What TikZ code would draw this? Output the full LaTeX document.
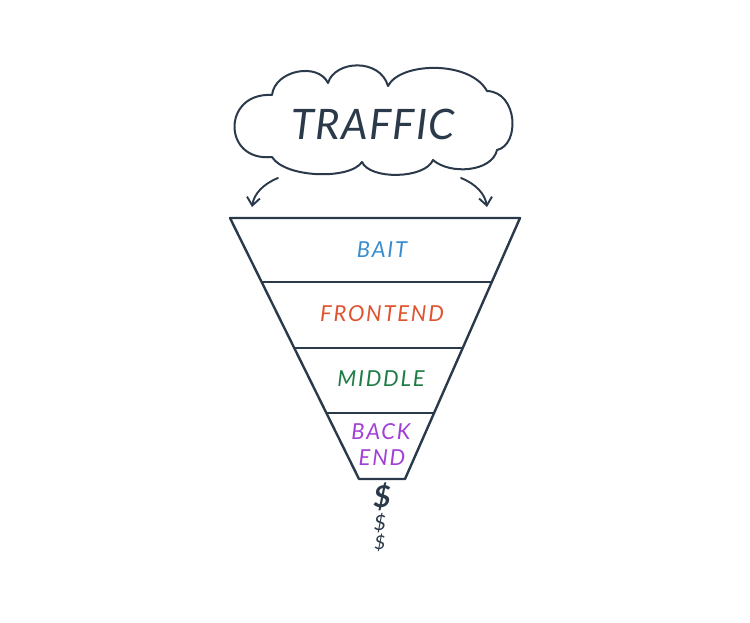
\documentclass[tikz,border=0pt]{standalone}
\usepackage{fontspec}
\newfontfamily\hand{Lato}
\newfontfamily\handw{Lato}[LetterSpace=8]
\newfontfamily\handt{Lato}[LetterSpace=3]
\usetikzlibrary{arrows.meta}
\definecolor{ink}{HTML}{2B3A4A}
\definecolor{baitc}{HTML}{3A8ECF}
\definecolor{frontc}{HTML}{E0532F}
\definecolor{midc}{HTML}{1E7D44}
\definecolor{backc}{HTML}{A23FD6}
\tikzset{
  funnel/.style={draw=ink, line width=2.4pt, line join=round},
  cloudline/.style={draw=ink, line width=2pt, line join=round, line cap=round},
  flowarrow/.style={draw=ink, line width=1.9pt, line cap=round, -{Straight Barb[length=8pt,width=13pt,line width=1.9pt]}},
  lab/.style={font=\handw\itshape\fontsize{22}{22}\selectfont, inner sep=0pt},
  dollar/.style={text=ink, inner sep=0pt}
}
\begin{document}
\begin{tikzpicture}[x=1pt,y=-1pt]
\useasboundingbox (0,0) rectangle (750,622);
\fill[white] (0,0) rectangle (750,622);

% cloud
\draw[cloudline]
  (272,95) .. controls (275,70) and (318,62) .. (328,83)
  .. controls (335,60) and (380,58) .. (388,86)
  .. controls (400,62) and (470,60) .. (487,91)
  .. controls (518,92) and (520,145) .. (497,150)
  .. controls (492,172) and (450,175) .. (433,160)
  .. controls (425,179) and (370,180) .. (362,162)
  .. controls (350,180) and (285,178) .. (272,157)
  .. controls (222,162) and (222,92) .. (272,95) -- cycle;
\node[text=ink, inner sep=0pt, font=\handt\itshape\fontsize{42}{42}\selectfont] (traffic) at (373,124) {TRAFFIC};

% funnel
\coordinate (t1) at (230,218); \coordinate (t2) at (520,218);
\coordinate (l2) at (262,282); \coordinate (r2) at (491,282);
\coordinate (l3) at (294,348); \coordinate (r3) at (462,348);
\coordinate (l4) at (326,413); \coordinate (r4) at (433,413);
\coordinate (b1) at (359,479); \coordinate (b2) at (405,479);
\draw[funnel] (t1) -- (t2) -- (b2) -- (b1) -- cycle;
\draw[funnel] (l2) -- (r2);
\draw[funnel] (l3) -- (r3);
\draw[funnel] (l4) -- (r4);

% arrows
\coordinate (als) at (278,178); \coordinate (ale) at (252,207);
\coordinate (ars) at (461,178); \coordinate (are) at (487,207);
\draw[flowarrow] (als) .. controls (263,184) and (254,194) .. (ale);
\draw[flowarrow] (ars) .. controls (476,184) and (485,194) .. (are);

% labels
\node[lab, text=baitc] (bait) at (382,250) {BAIT};
\node[lab, text=frontc] (front) at (382,314) {FRONTEND};
\node[lab, text=midc] (mid) at (381,379) {MIDDLE};
\node[lab, text=backc] (back) at (381,432) {BACK};
\node[lab, text=backc] (end) at (382,458) {END};

% dollars
\node[dollar, font=\hand\itshape\bfseries\fontsize{30}{30}\selectfont] (d1) at (382,497) {\$};
\node[dollar, font=\hand\itshape\fontsize{21}{21}\selectfont] (d2) at (380,523) {\$};
\node[dollar, font=\hand\itshape\fontsize{19}{19}\selectfont] (d3) at (380,543) {\$};
\end{tikzpicture}
\end{document}
